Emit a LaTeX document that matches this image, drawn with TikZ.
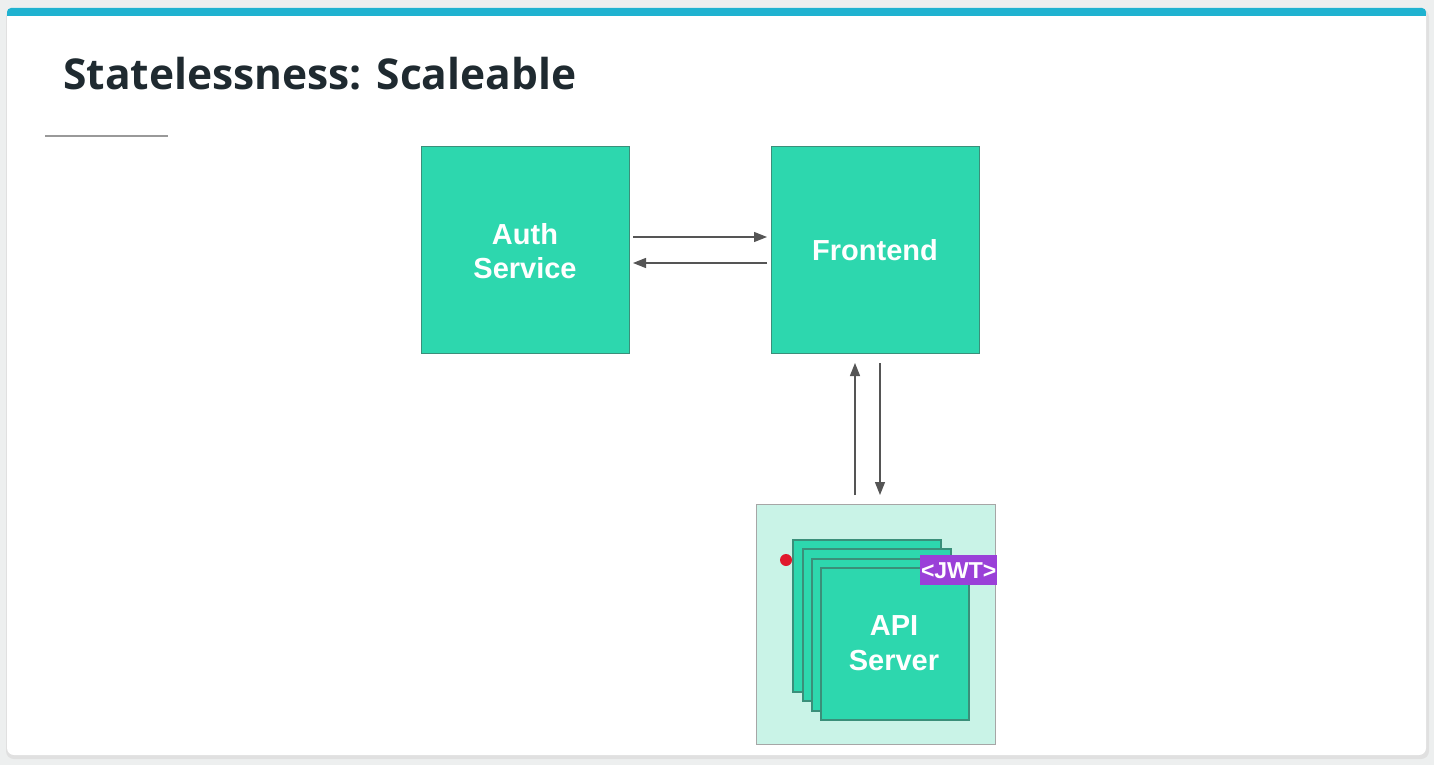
\documentclass[tikz,border=0pt]{standalone}
\usepackage{fontspec}
\setmainfont{Liberation Sans}
\newfontfamily\titlefont{Open Sans}
\usetikzlibrary{arrows.meta}
\definecolor{bgout}{HTML}{EDEFEF}
\definecolor{topbar}{HTML}{1FB2D0}
\definecolor{titlecol}{HTML}{1F2A30}
\definecolor{boxfill}{HTML}{2DD7AE}
\definecolor{boxline}{HTML}{3A8F7A}
\definecolor{mint}{HTML}{C9F3E7}
\definecolor{jwt}{HTML}{9A40D8}
\definecolor{arrowcol}{HTML}{555555}
\definecolor{dotred}{HTML}{E0182D}
\tikzset{
  svc/.style={draw=boxline, line width=1.3pt, fill=boxfill, minimum width=208pt, minimum height=207pt, anchor=north west, inner sep=0pt},
  api/.style={draw=boxline, line width=1.5pt, fill=boxfill, minimum width=148pt, minimum height=152pt, anchor=north west, inner sep=0pt},
  lbl/.style={text=white, font=\bfseries\fontsize{29}{34.5}\selectfont, align=center},
  conn/.style={draw=arrowcol, line width=1.2pt, -{Triangle[length=13pt,width=10pt]}},
}
\begin{document}
\begin{tikzpicture}[x=1pt,y=-1pt]
\useasboundingbox (0,0) rectangle (1434,765);
\fill[bgout] (0,0) rectangle (1434,765);
% card shadow
\fill[black!12, rounded corners=8pt] (6,9) rectangle (1429,759);
\fill[white, rounded corners=7pt] (7,8) rectangle (1426,755);
\fill[topbar, rounded corners=4pt] (7,8) rectangle (1426,16);
\fill[topbar] (7,12) rectangle (1426,16);
% title
\node[anchor=base west, inner sep=0pt, text=titlecol, font=\titlefont\bfseries\fontsize{42.5}{50}\selectfont] (title) at (63,90) {Statelessness: Scaleable};
\draw[gray!80, line width=1.3pt] (45,136) -- (168,136);
% services
\node[svc] (auth) at (421,146) {};
\node[lbl] (authtxt) at (525,251) {Auth\\Service};
\node[svc] (front) at (771,146) {};
\node[lbl] (fronttxt) at (875,250) {Frontend};
% API container
\node[draw=gray!70, line width=1pt, fill=mint, minimum width=239pt, minimum height=240pt, anchor=north west, inner sep=0pt] (cont) at (756,504) {};
\node[api] (api1) at (792,539) {};
\node[api] (api2) at (802,548) {};
\node[api] (api3) at (811,558) {};
\node[api] (api4) at (820,567) {};
\node[lbl] (apitxt) at (894,643) {API\\Server};
\node[fill=jwt, text=white, font=\bfseries\fontsize{23}{26}\selectfont, minimum width=77pt, minimum height=30pt, inner sep=0pt, anchor=north west] (jwt) at (920,555) {<JWT>};
\node[circle, fill=dotred, minimum size=12pt, inner sep=0pt] (dot) at (786,560) {};
% connectors
\coordinate (a1) at (633,237);
\coordinate (f1) at (767,237);
\coordinate (f2) at (767,263);
\coordinate (a2) at (633,263);
\draw[conn] (a1) -- (f1);
\draw[conn] (f2) -- (a2);
\coordinate (c1) at (855,495);
\coordinate (fu) at (855,363);
\coordinate (fd) at (880,363);
\coordinate (c2) at (880,495);
\draw[conn] (c1) -- (fu);
\draw[conn] (fd) -- (c2);
\end{tikzpicture}
\end{document}
